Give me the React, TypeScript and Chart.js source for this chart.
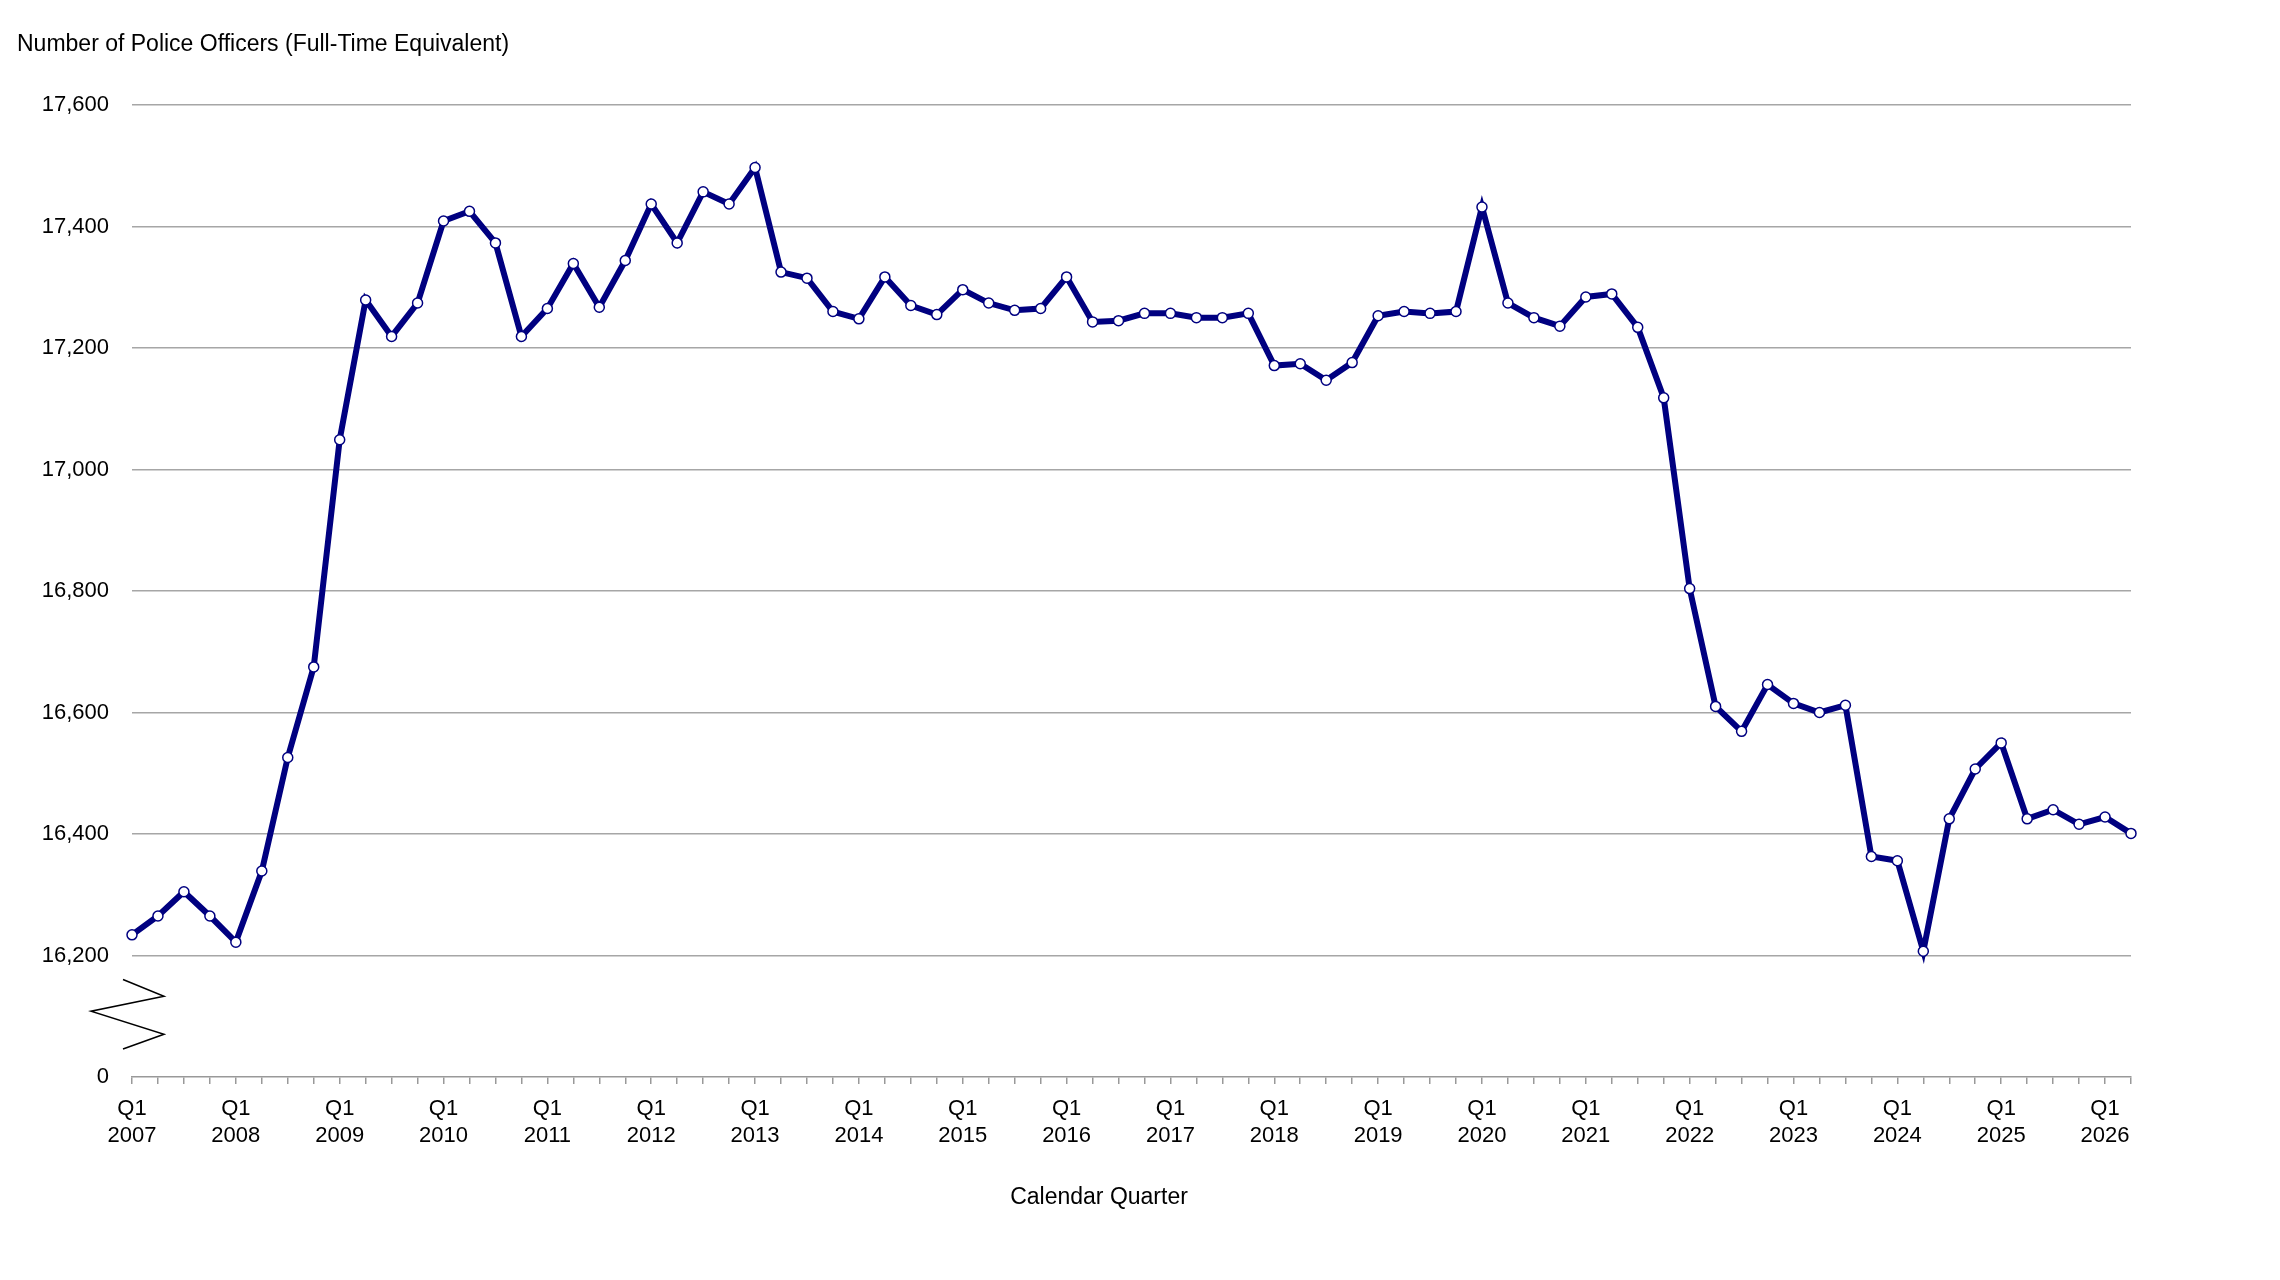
import React, { useEffect, useRef } from "react";
import { Chart, registerables } from "chart.js";
Chart.register(...registerables);

const years = ["2007","2008","2009","2010","2011","2012","2013","2014","2015","2016","2017","2018","2019","2020","2021","2022","2023","2024","2025","2026"];
const quarters = ["Q1","Q2","Q3","Q4"];
const officers = [
  16234,16265,16305,16265,
  16222,16339,16526,16675,
  17049,17279,17219,17274,
  17409,17425,17373,17219,
  17265,17339,17267,17344,
  17437,17373,17457,17437,
  17497,17325,17315,17260,
  17248,17317,17270,17255,
  17296,17274,17262,17265,
  17317,17243,17245,17257,
  17257,17250,17250,17257,
  17171,17174,17147,17176,
  17253,17260,17257,17260,
  17432,17274,17250,17236,
  17284,17289,17234,17118,
  16804,16610,16569,16646,
  16615,16600,16612,16363,
  16356,16207,16425,16507,
  16550,16425,16440,16416,
  16428,16401,
];
const yTitle = "Number of Police Officers (Full-Time Equivalent)";
const xTitle = "Calendar Quarter";

const labels: string[][] = officers.map((_, i) => {
  const q = quarters[i % 4];
  const y = years[Math.floor(i / 4)];
  return q === "Q1" ? [q, y] : [""];
});

const FONT = "'Liberation Sans', Arial, sans-serif";

const decor = {
  id: "decor",
  afterDraw(chart: any) {
    const ctx = chart.ctx;
    const ys = chart.scales.y;
    const left = chart.chartArea.left;
    const yA = ys.getPixelForValue(16200);
    const yB = ys.getPixelForValue(16000);
    const h = yB - yA;
    ctx.save();
    ctx.strokeStyle = "#000";
    ctx.lineWidth = 1.5;
    ctx.beginPath();
    const pts = [[-9, 0.197], [32, 0.336], [-41, 0.459], [32, 0.648], [-9, 0.77]];
    pts.forEach(([dx, f], i) => {
      const px = left + dx, py = yA + f * h;
      if (i === 0) ctx.moveTo(px, py); else ctx.lineTo(px, py);
    });
    ctx.stroke();
    ctx.fillStyle = "#000";
    ctx.font = `23px ${FONT}`;
    ctx.textBaseline = "middle";
    ctx.textAlign = "left";
    ctx.fillText(yTitle, 17, 45);
    ctx.textAlign = "center";
    ctx.fillText(xTitle, 1099, 1198);
    ctx.restore();
  },
};

export default function App() {
  const ref = useRef<HTMLCanvasElement>(null);
  useEffect(() => {
    document.body.style.margin = "0";
    const chart = new Chart(ref.current!, {
      type: "line",
      data: {
        labels,
        datasets: [{
          data: officers,
          borderColor: "#000080",
          borderWidth: 6,
          pointRadius: 5,
          pointBackgroundColor: "#ffffff",
          pointBorderColor: "#000080",
          pointBorderWidth: 1.5,
          tension: 0,
        }],
      },
      options: {
        animation: false,
        responsive: false,
        layout: { padding: { left: 0, top: 105, right: 149, bottom: 0 } },
        plugins: { legend: { display: false }, tooltip: { enabled: false } },
        scales: {
          x: {
            offset: false,
            grid: { drawOnChartArea: false, drawTicks: true, tickLength: 7, color: "#999", lineWidth: 1.5 },
            border: { display: true, color: "#999", width: 1.5 },
            ticks: {
              autoSkip: false, maxRotation: 0, minRotation: 0, padding: 12,
              color: "#000", font: { family: FONT, size: 22, lineHeight: 1.2 },
            },
            afterFit: (s: any) => { s.height = 1280 - 1077; },
          },
          y: {
            min: 16000, max: 17600,
            grid: {
              drawTicks: false, lineWidth: 1.5,
              color: (c: any) => (c.tick && c.tick.value === 16000 ? "rgba(0,0,0,0)" : "#a6a6a6"),
            },
            border: { display: false },
            ticks: {
              stepSize: 200, padding: 23, color: "#000",
              font: { family: FONT, size: 22 },
              callback: (v: any) => (v === 16000 ? "0" : Number(v).toLocaleString("en-US")),
            },
            afterFit: (s: any) => { s.width = 132; },
          },
        },
      },
      plugins: [decor],
    });
    return () => chart.destroy();
  }, []);
  return <canvas ref={ref} width={2280} height={1280} style={{ display: "block", width: 2280, height: 1280 }} />;
}
